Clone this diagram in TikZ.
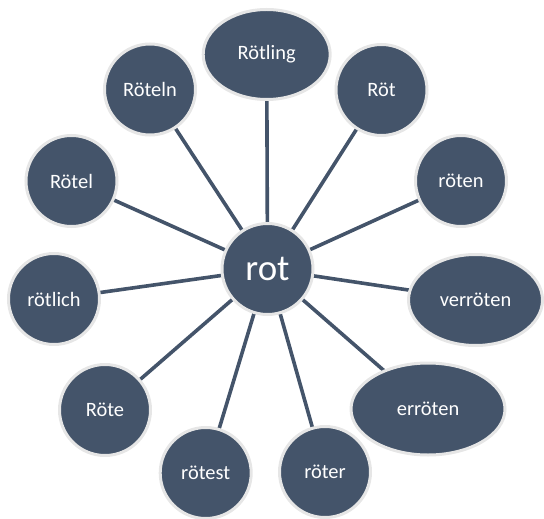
\documentclass[tikz,border=0pt]{standalone}
\usepackage{fontspec}
\setmainfont{Carlito}
\usetikzlibrary{shapes.geometric,backgrounds}
\definecolor{slate}{HTML}{44546A}
\definecolor{ring}{HTML}{E6E6E6}
\tikzset{
  leaf/.style={circle, fill=slate, draw=ring, line width=3bp, minimum size=91bp,
    inner sep=0pt, text=white, font=\fontsize{20.5}{24}\selectfont},
  oval/.style={leaf, ellipse},
  hub/.style={leaf, minimum size=91bp, font=\fontsize{37}{44}\selectfont},
  spoke/.style={draw=slate, line width=3.6bp}
}
\begin{document}
\begin{tikzpicture}[x=1bp, y=-1bp]
\useasboundingbox (0,0) rectangle (544,519);
\node[hub] (rot) at (267.5,269) {rot};
\node[oval, minimum width=127bp, minimum height=90bp] (rotling) at (266.7,54.5) {Rötling};
\node[leaf] (roet) at (381.5,90) {Röt};
\node[leaf] (roeten) at (461,181) {röten};
\node[oval, minimum width=134bp, minimum height=91bp] (verroeten) at (475.5,300) {verröten};
\node[oval, minimum width=154bp, minimum height=92bp] (erroeten) at (428,409) {erröten};
\node[leaf] (roeter) at (325,472) {röter};
\node[leaf] (roetest) at (205.7,473) {rötest};
\node[leaf] (roete) at (105,410) {Röte};
\node[leaf] (roetlich) at (54,299) {rötlich};
\node[leaf] (roetel) at (71.5,181) {Rötel};
\node[leaf] (roeteln) at (150,89.5) {Röteln};
\begin{scope}[on background layer]
  \foreach \n in {rotling,roet,roeten,verroeten,erroeten,roeter,roetest,roete,roetlich,roetel,roeteln}
    \draw[spoke] (rot.center) -- (\n.center);
\end{scope}
\end{tikzpicture}
\end{document}
